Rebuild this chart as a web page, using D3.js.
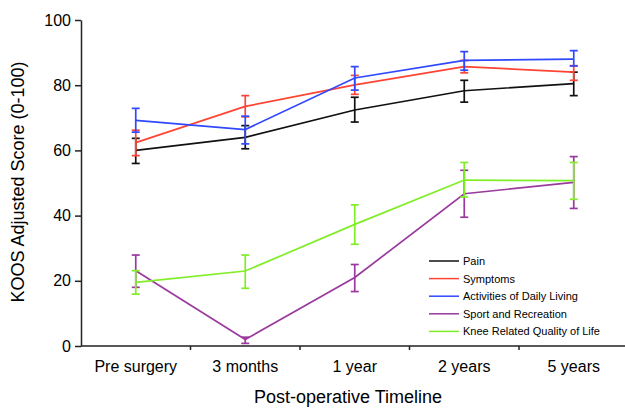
<!DOCTYPE html>
<html>
<head>
<meta charset="utf-8">
<script src="https://cdn.jsdelivr.net/npm/d3@7/dist/d3.min.js"></script>
<style>
  html, body { margin: 0; padding: 0; background: #fff; }
  svg { display: block; font-family: "Liberation Sans", Arial, Helvetica, sans-serif; }
</style>
</head>
<body>
<svg id="chart" width="625" height="409"></svg>
<script>
// KOOS subscale scores over the post-operative timeline (mean with error bars)
const categories = ["Pre surgery", "3 months", "1 year", "2 years", "5 years"];
const seriesNames = ["Pain", "Symptoms", "Activities of Daily Living", "Sport and Recreation", "Knee Related Quality of Life"];
const seriesColors = ["#111111", "#ff4433", "#3048ff", "#9a3a9e", "#7fee26"];

const painMean = [60.0, 64.0, 72.4, 78.3, 80.5];
const painHigh = [63.7, 67.6, 76.3, 81.5, 84.0];
const painLow  = [56.0, 60.5, 68.7, 74.8, 76.8];

const symptomsMean = [62.4, 73.5, 80.1, 85.7, 84.0];
const symptomsHigh = [66.2, 76.8, 83.0, 87.6, 86.0];
const symptomsLow  = [58.4, 70.3, 77.2, 83.8, 81.5];

const adlMean = [69.2, 66.4, 82.2, 87.6, 88.0];
const adlHigh = [72.9, 70.5, 85.7, 90.3, 90.6];
const adlLow  = [65.6, 62.0, 78.5, 84.6, 85.9];

const sportMean = [23.1, 2.0, 21.0, 46.7, 50.2];
const sportHigh = [27.9, 2.7, 25.0, 53.9, 58.1];
const sportLow  = [18.0, 0.8, 16.7, 39.5, 42.2];

const qolMean = [19.5, 23.0, 37.3, 50.9, 50.7];
const qolHigh = [23.1, 27.9, 43.3, 56.3, 56.3];
const qolLow  = [15.9, 17.7, 31.2, 45.7, 45.0];

const yTicks = [0, 20, 40, 60, 80, 100];

const series = [
  { mean: painMean, high: painHigh, low: painLow },
  { mean: symptomsMean, high: symptomsHigh, low: symptomsLow },
  { mean: adlMean, high: adlHigh, low: adlLow },
  { mean: sportMean, high: sportHigh, low: sportLow },
  { mean: qolMean, high: qolHigh, low: qolLow }
].map((s, i) => ({ ...s, name: seriesNames[i], color: seriesColors[i] }));

const svg = d3.select("#chart");
const plotLeft = 81, plotRight = 628.5, plotTop = 20, plotBottom = 346;

const x = d3.scaleBand().domain(categories).range([plotLeft, plotRight]);
const y = d3.scaleLinear().domain([0, 100]).range([plotBottom, plotTop]);
const cx = c => x(c) + x.bandwidth() / 2;

// y axis
const yAxis = svg.append("g").attr("transform", `translate(${plotLeft},0)`)
  .call(d3.axisLeft(y).tickValues(yTicks).tickSize(6).tickSizeOuter(0));
yAxis.select(".domain").attr("stroke", "#222").attr("stroke-width", 1.5);
yAxis.selectAll(".tick line").attr("stroke", "#222").attr("stroke-width", 1.5);
yAxis.selectAll(".tick text").attr("font-size", 16).attr("fill", "#000")
  .attr("font-family", "Liberation Sans, Arial, sans-serif").attr("x", -10);

// x axis with ticks at category boundaries
const xAxis = svg.append("g").attr("transform", `translate(0,${plotBottom})`);
xAxis.append("line").attr("x1", plotLeft).attr("x2", plotRight).attr("stroke", "#222").attr("stroke-width", 1.5);
xAxis.selectAll("line.tk").data(categories.slice(1)).join("line").attr("class", "tk")
  .attr("x1", d => x(d)).attr("x2", d => x(d)).attr("y1", 0).attr("y2", 4)
  .attr("stroke", "#222").attr("stroke-width", 1.5);
xAxis.selectAll("text").data(categories).join("text")
  .attr("x", d => cx(d)).attr("y", 26).attr("text-anchor", "middle")
  .attr("font-size", 16).attr("fill", "#000").text(d => d);

// axis titles
svg.append("text").attr("x", 348).attr("y", 403).attr("text-anchor", "middle")
  .attr("font-size", 18).attr("fill", "#000").text("Post-operative Timeline");
svg.append("text").attr("transform", "translate(24,182) rotate(-90)").attr("text-anchor", "middle")
  .attr("font-size", 18).attr("fill", "#000").text("KOOS Adjusted Score (0-100)");

// series lines and error bars
const line = d3.line().x((d, i) => cx(categories[i])).y(d => y(d));
const cap = 4;
series.forEach(s => {
  const g = svg.append("g");
  g.append("path").attr("d", line(s.mean)).attr("fill", "none")
    .attr("stroke", s.color).attr("stroke-width", 1.7);
  categories.forEach((c, i) => {
    const px = cx(c);
    g.append("line").attr("x1", px).attr("x2", px).attr("y1", y(s.high[i])).attr("y2", y(s.low[i]))
      .attr("stroke", s.color).attr("stroke-width", 1.7);
    [s.high[i], s.low[i]].forEach(v => {
      g.append("line").attr("x1", px - cap).attr("x2", px + cap).attr("y1", y(v)).attr("y2", y(v))
        .attr("stroke", s.color).attr("stroke-width", 1.7);
    });
  });
});

// legend
const legend = svg.append("g").attr("transform", "translate(429,261)");
series.forEach((s, i) => {
  const row = legend.append("g").attr("transform", `translate(0,${i * 17.6})`);
  row.append("line").attr("x1", 0).attr("x2", 30).attr("stroke", s.color).attr("stroke-width", 1.5);
  row.append("text").attr("x", 34).attr("y", 4).attr("font-size", 11).attr("fill", "#000").text(s.name);
});
</script>
</body>
</html>
